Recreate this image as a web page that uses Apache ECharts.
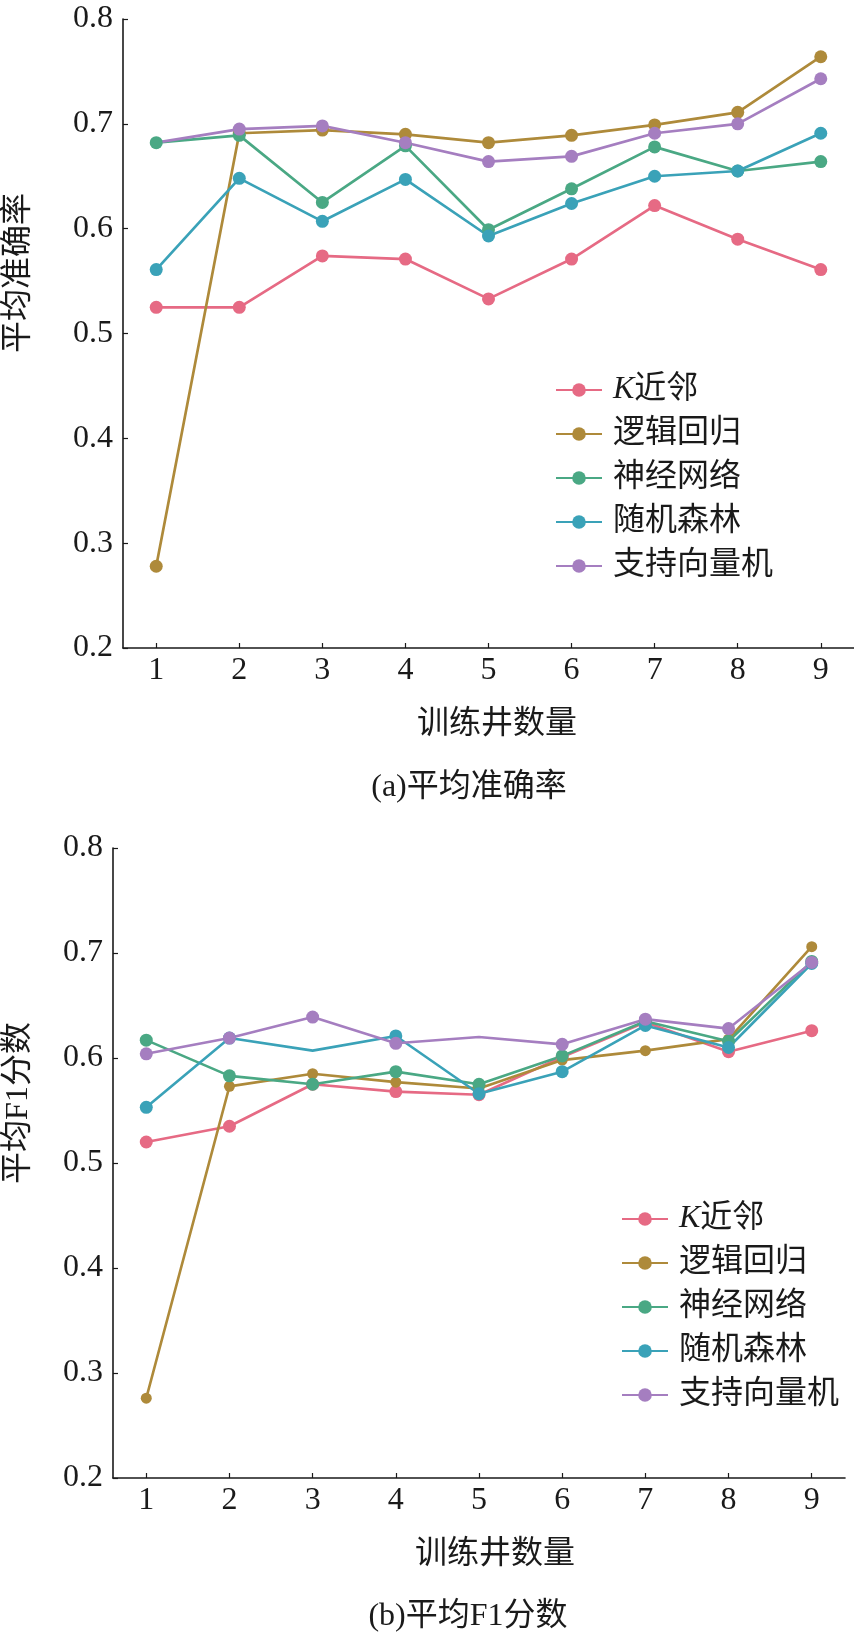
<!DOCTYPE html>
<html>
<head>
<meta charset="utf-8">
<script src="https://cdn.jsdelivr.net/npm/echarts@6/dist/echarts.min.js"></script>
<style>
  html, body { margin: 0; padding: 0; background: #fff; }
  #main { width: 854px; height: 1635px; }
</style>
</head>
<body>
<div id="main"></div>
<script>
// 训练井数量
var wells = [1, 2, 3, 4, 5, 6, 7, 8, 9];
var models = ['K近邻', '逻辑回归', '神经网络', '随机森林', '支持向量机'];
var yTicks = [0.2, 0.3, 0.4, 0.5, 0.6, 0.7, 0.8];

// (a) 平均准确率
var accKnn = [0.525, 0.525, 0.574, 0.571, 0.533, 0.571, 0.622, 0.590, 0.561];
var accLr  = [0.278, 0.691, 0.694, 0.690, 0.682, 0.689, 0.699, 0.711, 0.764];
var accNn  = [0.682, 0.689, 0.625, 0.679, 0.599, 0.638, 0.678, 0.655, 0.664];
var accRf  = [0.561, 0.648, 0.607, 0.647, 0.593, 0.624, 0.650, 0.655, 0.691];
var accSvm = [0.682, 0.695, 0.698, 0.682, 0.664, 0.669, 0.691, 0.700, 0.743];

// (b) 平均F1分数
var f1Knn = [0.520, 0.535, 0.575, 0.568, 0.565, 0.601, 0.634, 0.606, 0.626];
var f1Lr  = [0.276, 0.573, 0.585, 0.577, 0.571, 0.598, 0.607, 0.618, 0.706];
var f1Nn  = [0.617, 0.583, 0.575, 0.587, 0.575, 0.602, 0.635, 0.616, 0.692];
var f1Rf  = [0.553, 0.619, 0.607, 0.621, 0.566, 0.587, 0.631, 0.610, 0.690];
var f1Svm = [0.604, 0.619, 0.639, 0.614, 0.620, 0.613, 0.637, 0.628, 0.691];

// points drawn without a marker in the original
var accHidden = [[], [], [], [], [0]];
var f1Hidden = [[], [], [], [2], [4]];

var colors = ['#E66A84', '#AE8A3A', '#4AA884', '#3AA2B8', '#A57EC0'];
var FONT = '"Liberation Serif", "Noto Sans CJK SC", serif';
var INK = '#1a1a1a';

gerarGrafico();

function toPoints(vals, hidden) {
  return vals.map(function (v, i) {
    if (hidden.indexOf(i) >= 0) return { value: [wells[i], v], symbol: 'none' };
    return [wells[i], v];
  });
}

function makeAxes(idx) {
  var xAxis = {
    gridIndex: idx,
    type: 'value',
    min: 0.6,
    max: 9.4,
    splitLine: { show: false },
    axisLine: { lineStyle: { color: INK, width: 1.6 } },
    axisTick: { inside: true, length: 5, customValues: wells, lineStyle: { color: INK, width: 1.2 } },
    axisLabel: { customValues: wells, margin: 7, color: INK, fontSize: 32, fontFamily: FONT }
  };
  var yAxis = {
    gridIndex: idx,
    type: 'value',
    min: 0.2,
    max: 0.8,
    splitLine: { show: false },
    axisLine: { show: true, lineStyle: { color: INK, width: 1.6 } },
    axisTick: { show: true, inside: true, length: 5, customValues: yTicks, lineStyle: { color: INK, width: 1.2 } },
    axisLabel: {
      customValues: yTicks, margin: 10, color: INK, fontSize: 32, fontFamily: FONT,
      formatter: function (v) { return v.toFixed(1); }
    }
  };
  return { x: xAxis, y: yAxis };
}

function makeLegend(left, top) {
  return {
    orient: 'vertical',
    left: left,
    top: top,
    data: models,
    itemWidth: 46,
    itemHeight: 17,
    itemGap: 12,
    textStyle: {
      color: INK, fontSize: 32, fontFamily: FONT, padding: [0, 0, 0, 6],
      rich: { i: { fontStyle: 'italic', fontSize: 32, fontFamily: '"Liberation Serif", serif', color: INK } }
    },
    formatter: function (name) {
      return name === 'K近邻' ? '{i|K}近邻' : name;
    }
  };
}

function makeSeries(idx, lists, hidden, width) {
  return lists.map(function (vals, k) {
    return {
      name: models[k],
      type: 'line',
      xAxisIndex: idx,
      yAxisIndex: idx,
      data: toPoints(vals, hidden[k]),
      symbol: 'circle',
      symbolSize: (idx === 1 && k === 1) ? 11 : 13,
      lineStyle: { color: colors[k], width: width },
      itemStyle: { color: colors[k] },
      emphasis: { disabled: true }
    };
  });
}

function txt(text, x, y, rot) {
  return {
    type: 'text',
    x: x,
    y: y,
    rotation: rot || 0,
    style: {
      text: text,
      align: 'center',
      verticalAlign: 'middle',
      fill: INK,
      font: '32px ' + FONT
    }
  };
}

function gerarGrafico() {
  var dom = document.getElementById('main');
  var myChart = echarts.init(dom, null, { renderer: 'canvas' });

  var a = makeAxes(0);
  var b = makeAxes(1);

  var option = {
    animation: false,
    backgroundColor: '#fff',
    grid: [
      { left: 123, top: 19, width: 731, height: 629 },
      { left: 113, top: 848, width: 732, height: 630 }
    ],
    xAxis: [a.x, b.x],
    yAxis: [a.y, b.y],
    legend: [makeLegend(550, 369), makeLegend(616, 1198)],
    series: makeSeries(0, [accKnn, accLr, accNn, accRf, accSvm], accHidden, 2.7)
      .concat(makeSeries(1, [f1Knn, f1Lr, f1Nn, f1Rf, f1Svm], f1Hidden, 2.6)),
    graphic: [
      txt('平均准确率', 19, 273, Math.PI / 2),
      txt('训练井数量', 497, 725),
      txt('(a)平均准确率', 469, 788),
      txt('平均F1分数', 19, 1103, Math.PI / 2),
      txt('训练井数量', 495, 1555),
      txt('(b)平均F1分数', 468, 1617)
    ]
  };

  myChart.setOption(option);
  window.addEventListener('resize', myChart.resize);
}
</script>
</body>
</html>
